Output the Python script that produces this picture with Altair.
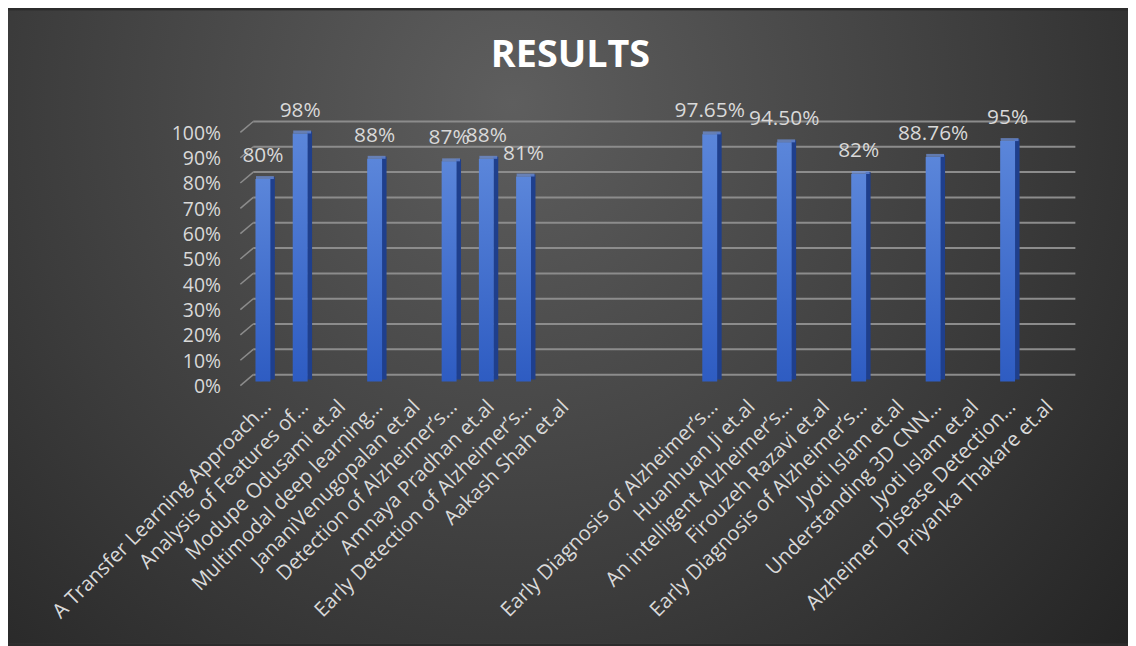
import json
import altair as alt
import pandas as pd

# ---------------- data ----------------
categories = [
    "A Transfer Learning Approach…",
    "Analysis of Features of…",
    "Modupe Odusami et.al",
    "Multimodal deep learning…",
    "JananiVenugopalan et.al",
    "Detection of Alzheimer’s…",
    "Amnaya Pradhan et.al",
    "Early Detection of Alzheimer’s…",
    "Aakash Shah et.al",
    "",
    "",
    "",
    "Early Diagnosis of Alzheimer’s…",
    "Huanhuan Ji et.al",
    "An intelligent Alzheimer’s…",
    "Firouzeh Razavi et.al",
    "Early Diagnosis of Alzheimer’s…",
    "Jyoti Islam et.al",
    "Understanding 3D CNN…",
    "Jyoti Islam et.al",
    "Alzheimer Disease Detection…",
    "Priyanka Thakare et.al",
]
values = [0.80, 0.98, None, 0.88, None, 0.87, 0.88, 0.81, None, None, None,
          None, 0.9765, None, 0.945, None, 0.82, None, 0.8876, None, 0.95, None]
value_labels = ["80%", "98%", None, "88%", None, "87%", "88%", "81%", None, None, None,
                None, "97.65%", None, "94.50%", None, "82%", None, "88.76%", None, "95%", None]
y_ticks = [0.0, 0.1, 0.2, 0.3, 0.4, 0.5, 0.6, 0.7, 0.8, 0.9, 1.0]

# ---------------- tables ----------------
rows = [
    {"idx": i, "value": v, "label": l}
    for i, (v, l) in enumerate(zip(values, value_labels))
    if v is not None
]
bars_df = pd.DataFrame(rows)
ticks_df = pd.DataFrame({"t": y_ticks})
bg_df = pd.DataFrame({"k": [0]})

W, H = 825, 255
PAD = {"left": 240, "right": 63, "top": 119, "bottom": 264}

FONT = "Open Sans"
TXT = "#d9d9d9"

label_expr = json.dumps(categories, ensure_ascii=False) + "[datum.value]"

x_enc = alt.X(
    "idx:O",
    scale=alt.Scale(domain=list(range(len(categories))), paddingInner=0, paddingOuter=0),
    axis=alt.Axis(
        labelExpr=label_expr,
        labelAngle=-45,
        labelAlign="right",
        labelBaseline="middle",
        labelPadding=22,
        labelFontSize=20.5,
        labelFont=FONT,
        labelColor=TXT,
        labelLimit=600,
        labelOverlap=False,
        labelBound=False,
        labelOffset=3,
        domain=False,
        ticks=False,
        tickSize=0,
        grid=False,
        title=None,
        zindex=2,
    ),
)
y_scale = alt.Scale(domain=[0, 1], nice=False, zero=True)
y_axis = alt.Axis(values=y_ticks, format=".0%", grid=False, domain=False,
                  ticks=False, tickSize=0, labelPadding=26, labelOffset=5,
                  labelOverlap=False, labelFlush=False, labelBound=False,
                  labelFontSize=19.5, labelFont=FONT, labelColor=TXT, title=None,
                  zindex=2)


def yv(field):
    return alt.Y(field, scale=y_scale, axis=y_axis)


# background gradient
background = alt.Chart(bg_df).mark_rect(
    color=alt.Gradient(
        gradient="radial",
        x1=0.45, y1=0.3, r1=0.0,
        x2=0.45, y2=0.3, r2=0.8,
        stops=[
            alt.GradientStop(offset=0, color="#5e5e5e"),
            alt.GradientStop(offset=0.55, color="#3c3c3c"),
            alt.GradientStop(offset=1, color="#1f1f1f"),
        ],
    )
).encode(
    x=alt.value(-PAD["left"]),
    x2=alt.value(W + PAD["right"]),
    y=alt.value(-PAD["top"]),
    y2=alt.value(H + PAD["bottom"]),
)

# back-wall gridlines
grid_back = alt.Chart(ticks_df).mark_rule(
    color="#8c8c8c", strokeWidth=2, yOffset=-7
).encode(
    y=yv("t:Q"),
    x=alt.value(7),
    x2=alt.value(W + 10),
)

# side-wall diagonal gridlines
grid_side = alt.Chart(ticks_df).mark_rule(
    color="#8c8c8c", strokeWidth=1.5, yOffset=4, y2Offset=-7
).encode(
    y=yv("t:Q"),
    y2="t:Q",
    x=alt.value(-6),
    x2=alt.value(7),
)

base = alt.Chart(bars_df).encode(x=x_enc)

side = base.mark_bar(width=5, xOffset=7.5, yOffset=-2, color="#1f3f8c").encode(
    y=yv("value:Q"),
)

front = base.mark_bar(
    width=15,
    xOffset=-2,
    color=alt.Gradient(
        gradient="linear",
        x1=0, y1=0, x2=0, y2=1,
        stops=[
            alt.GradientStop(offset=0, color="#5b86da"),
            alt.GradientStop(offset=1, color="#2e5cc2"),
        ],
    ),
).encode(
    y=yv("value:Q"),
)

cap = base.mark_tick(
    thickness=3, size=18, color="#6f93de", yOffset=-1.5, xOffset=0
).encode(
    y=yv("value:Q"),
)

labels = base.mark_text(
    dy=-23, dx=-2, fontSize=21, font=FONT, color=TXT, baseline="middle", align="center"
).encode(
    y=yv("value:Q"),
    text="label:N",
)

chart = alt.layer(
    background, grid_back, grid_side, side, front, cap, labels
).properties(
    width=W,
    height=H,
    padding=PAD,
    autosize=alt.AutoSizeParams(type="none"),
    background="#2c2c2c",
    title=alt.TitleParams(
        "RESULTS",
        fontSize=38,
        font=FONT,
        fontWeight="bold",
        color="#ffffff",
        anchor="middle",
        dx=-86,
        offset=-65,
    ),
).configure_view(stroke=None)

chart.save("out.html", embed_options={"renderer": "svg", "actions": False})
